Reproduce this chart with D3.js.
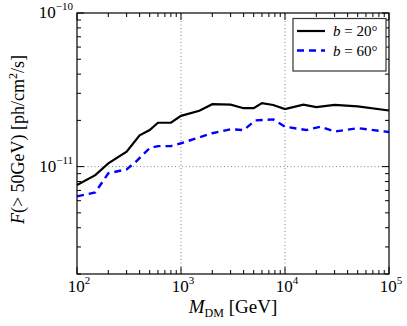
<!DOCTYPE html>
<html>
<head>
<meta charset="utf-8">
<script src="https://cdn.jsdelivr.net/npm/d3@7"></script>
<style>
  body { margin: 0; background: #fff; }
  text { font-family: "Liberation Serif", "DejaVu Serif", serif; }
</style>
</head>
<body>
<div id="chart"></div>
<script>
// masses in GeV
var massB20 = [100, 150, 200, 300, 400, 500, 600, 800, 1000, 1500, 2000, 3000, 4000, 5000, 6000, 7700, 10000, 15000, 20000, 30000, 50000, 100000];
var fluxB20 = [7.6e-12, 8.8e-12, 1.05e-11, 1.25e-11, 1.6e-11, 1.73e-11, 1.93e-11, 1.93e-11, 2.14e-11, 2.31e-11, 2.55e-11, 2.53e-11, 2.4e-11, 2.4e-11, 2.59e-11, 2.52e-11, 2.37e-11, 2.53e-11, 2.44e-11, 2.52e-11, 2.47e-11, 2.32e-11];

var massB60 = [100, 150, 200, 300, 370, 500, 600, 800, 1000, 2000, 3000, 4000, 5200, 7700, 10000, 16000, 22000, 30000, 50000, 100000];
var fluxB60 = [6.4e-12, 6.8e-12, 9.05e-12, 9.6e-12, 1.08e-11, 1.32e-11, 1.36e-11, 1.36e-11, 1.42e-11, 1.65e-11, 1.75e-11, 1.73e-11, 2.0e-11, 2.03e-11, 1.82e-11, 1.73e-11, 1.82e-11, 1.69e-11, 1.78e-11, 1.68e-11];

var xDecades = [2, 3, 4, 5];
var yDecades = [-11, -10];
var legendLabels = ["20", "60"];

var W = 407, H = 326;
var m = {left: 77, right: 18, top: 13, bottom: 52};

var svg = d3.select("#chart").append("svg").attr("width", W).attr("height", H);

var x = d3.scaleLog().domain([1e2, 1e5]).range([m.left, W - m.right]);
var y = d3.scaleLog().domain([2e-12, 1e-10]).range([H - m.bottom, m.top]);

// dotted grid at the major ticks
var g = svg.append("g");
g.selectAll(".gx").data([1e3, 1e4]).enter().append("line")
  .attr("x1", d => x(d)).attr("x2", d => x(d))
  .attr("y1", y.range()[0]).attr("y2", y.range()[1])
  .attr("stroke", "#666").attr("stroke-width", 0.8).attr("stroke-dasharray", "1,2.5");
g.selectAll(".gy").data([1e-11]).enter().append("line")
  .attr("y1", d => y(d)).attr("y2", d => y(d))
  .attr("x1", x.range()[0]).attr("x2", x.range()[1])
  .attr("stroke", "#666").attr("stroke-width", 0.8).attr("stroke-dasharray", "1,2.5");

// lines
var lineGen = d3.line().x(d => x(d[0])).y(d => y(d[1]));
svg.append("path").datum(d3.zip(massB20, fluxB20))
  .attr("d", lineGen).attr("fill", "none").attr("stroke", "#000").attr("stroke-width", 2.2);
svg.append("path").datum(d3.zip(massB60, fluxB60))
  .attr("d", lineGen).attr("fill", "none").attr("stroke", "#0000ff").attr("stroke-width", 2.4)
  .attr("stroke-dasharray", "7,5");

// ticks (inside, all four sides)
function minorTicks(sc) {
  var out = [];
  var d = sc.domain();
  var lo = Math.floor(Math.log10(d[0])), hi = Math.ceil(Math.log10(d[1]));
  for (var e = lo; e <= hi; e++) {
    for (var k = 1; k < 10; k++) {
      var v = k * Math.pow(10, e);
      if (v >= d[0] * 0.999 && v <= d[1] * 1.001) out.push({v: v, major: k == 1});
    }
  }
  return out;
}
var xt = minorTicks(x), yt = minorTicks(y);
var y0 = y.range()[0], y1 = y.range()[1], x0 = x.range()[0], x1 = x.range()[1];
var tk = svg.append("g").attr("stroke", "#000").attr("stroke-width", 1);
xt.forEach(function(t) {
  var L = t.major ? 7 : 4;
  tk.append("line").attr("x1", x(t.v)).attr("x2", x(t.v)).attr("y1", y0).attr("y2", y0 - L);
  tk.append("line").attr("x1", x(t.v)).attr("x2", x(t.v)).attr("y1", y1).attr("y2", y1 + L);
});
yt.forEach(function(t) {
  var L = t.major ? 7 : 4;
  tk.append("line").attr("y1", y(t.v)).attr("y2", y(t.v)).attr("x1", x0).attr("x2", x0 + L);
  tk.append("line").attr("y1", y(t.v)).attr("y2", y(t.v)).attr("x1", x1).attr("x2", x1 - L);
});

// frame
svg.append("rect").attr("x", x0).attr("y", y1).attr("width", x1 - x0).attr("height", y0 - y1)
  .attr("fill", "none").attr("stroke", "#000").attr("stroke-width", 1.2);

// tick labels
xDecades.forEach(function(e) {
  var t = svg.append("text").attr("x", x(Math.pow(10, e)) + 2).attr("y", y0 + 18)
    .attr("text-anchor", "middle").attr("font-size", 17);
  t.append("tspan").text("10");
  t.append("tspan").attr("font-size", 11).attr("dy", -8).text(e);
});
yDecades.forEach(function(e) {
  var t = svg.append("text").attr("x", x0 - 4).attr("y", y(Math.pow(10, e)) + 5)
    .attr("text-anchor", "end").attr("font-size", 17);
  t.append("tspan").text("10");
  t.append("tspan").attr("font-size", 11).attr("dy", -8).text("\u2212" + Math.abs(e));
});

// axis titles
var xl = svg.append("text").attr("x", (x0 + x1) / 2).attr("y", 313)
  .attr("text-anchor", "middle").attr("font-size", 19);
xl.append("tspan").attr("font-style", "italic").text("M");
xl.append("tspan").attr("font-size", 12).attr("dy", 4).text("DM");
xl.append("tspan").attr("dy", -4).text(" [GeV]");

var yl = svg.append("text").attr("transform", "translate(24," + ((y0 + y1) / 2 - 4) + ") rotate(-90)")
  .attr("text-anchor", "middle").attr("font-size", 18);
yl.append("tspan").attr("font-style", "italic").text("F");
yl.append("tspan").text("(> 50GeV) [ph/cm");
yl.append("tspan").attr("font-size", 12).attr("dy", -7).text("2");
yl.append("tspan").attr("dy", 7).text("/s]");

// legend
var lg = svg.append("g");
lg.append("rect").attr("x", 293).attr("y", 18.5).attr("width", 93).attr("height", 52.5)
  .attr("fill", "#fff").attr("stroke", "#333").attr("stroke-width", 1.2);
var legStyles = [{stroke: "#000", dash: null, w: 2.2}, {stroke: "#0000ff", dash: "7,5", w: 2.4}];
legendLabels.forEach(function(lab, i) {
  var yy = 31 + i * 19.5;
  lg.append("line").attr("x1", 297).attr("x2", 325).attr("y1", yy).attr("y2", yy)
    .attr("stroke", legStyles[i].stroke).attr("stroke-width", legStyles[i].w)
    .attr("stroke-dasharray", legStyles[i].dash);
  var t = lg.append("text").attr("x", 333).attr("y", yy + 5).attr("font-size", 15);
  t.append("tspan").attr("font-style", "italic").text("b");
  t.append("tspan").text(" = " + lab + "\u00b0");
});
</script>
</body>
</html>
